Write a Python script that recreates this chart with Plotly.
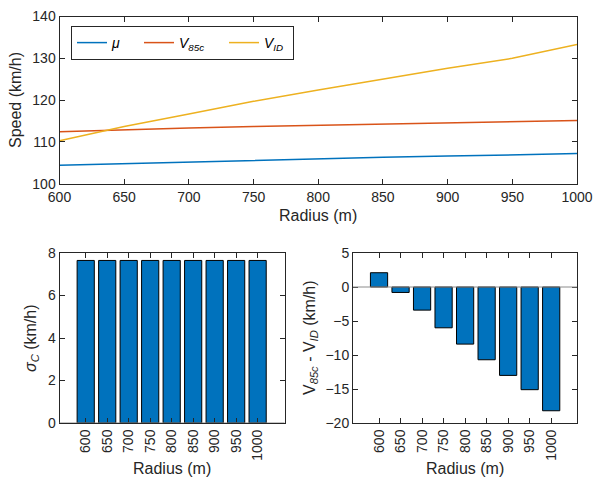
import plotly.graph_objects as go

radius = [600, 650, 700, 750, 800, 850, 900, 950, 1000]
mu = [104.4, 104.8, 105.2, 105.6, 105.9, 106.3, 106.6, 106.9, 107.2]
v85c = [112.4, 112.9, 113.3, 113.7, 114.0, 114.3, 114.6, 114.9, 115.1]
vid = [110.3, 113.7, 116.7, 119.7, 122.4, 125.0, 127.6, 130.0, 133.3]
sigma_c = [7.65, 7.65, 7.65, 7.65, 7.65, 7.65, 7.65, 7.65, 7.65]
diff = [2.1, -0.8, -3.4, -6.0, -8.4, -10.7, -13.0, -15.1, -18.2]
cat_labels = [str(r) for r in radius]

W, H = 593, 481
def fx(px): return px / W
def fy(py): return 1 - py / H

BLUE = "#0072BD"
ORANGE = "#D95319"
YELLOW = "#EDB120"
AX = "#262626"
FONT = "Liberation Sans, Arial, sans-serif"

fig = go.Figure()
fig.add_trace(go.Scatter(x=radius, y=mu, mode="lines", line=dict(color=BLUE, width=1.5),
                         name="<i>μ</i>", legendwidth=22, xaxis="x", yaxis="y"))
fig.add_trace(go.Scatter(x=radius, y=v85c, mode="lines", line=dict(color=ORANGE, width=1.5),
                         name="<i>V</i><sub><i>85c</i></sub>", legendwidth=40, xaxis="x", yaxis="y"))
fig.add_trace(go.Scatter(x=radius, y=vid, mode="lines", line=dict(color=YELLOW, width=1.5),
                         name="<i>V</i><sub><i>ID</i></sub>", legendwidth=24, xaxis="x", yaxis="y"))

idx = list(range(len(radius)))
fig.add_trace(go.Bar(x=idx, y=sigma_c, width=0.8, marker=dict(color=BLUE, line=dict(color="black", width=1)),
                     showlegend=False, xaxis="x2", yaxis="y2"))
fig.add_trace(go.Bar(x=idx, y=diff, width=0.8, marker=dict(color=BLUE, line=dict(color="black", width=1)),
                     showlegend=False, xaxis="x3", yaxis="y3"))

common = dict(showline=True, linecolor=AX, linewidth=1, mirror="ticks", ticks="inside",
              ticklen=5, tickcolor=AX, showgrid=False, zeroline=False, automargin=False,
              tickfont=dict(family=FONT, size=14, color=AX))

def ann(text, x, y, angle=0):
    return dict(text=text, xref="paper", yref="paper", x=fx(x), y=fy(y),
                xanchor="center", yanchor="middle", showarrow=False, textangle=angle,
                font=dict(size=16, family=FONT, color=AX))

fig.update_layout(
    width=W, height=H, margin=dict(l=0, r=0, t=0, b=0, autoexpand=False),
    plot_bgcolor="white", paper_bgcolor="white",
    font=dict(family=FONT, color=AX),
    xaxis=dict(domain=[fx(59.5), fx(577)], anchor="y", range=[600, 1000],
               tickvals=[600, 650, 700, 750, 800, 850, 900, 950, 1000], **common),
    yaxis=dict(domain=[fy(183.7), fy(16.5)], anchor="x", range=[100, 140],
               tickvals=[100, 110, 120, 130, 140], **common),
    xaxis2=dict(domain=[fx(59.5), fx(284.5)], anchor="y2", range=[-1.22, 9.25],
                tickvals=idx, ticktext=cat_labels, tickangle=-90, **common),
    yaxis2=dict(domain=[fy(423), fy(253)], anchor="x2", range=[0, 8],
                tickvals=[0, 2, 4, 6, 8], **common),
    xaxis3=dict(domain=[fx(353), fx(577)], anchor="y3", range=[-1.21, 9.2],
                tickvals=idx, ticktext=cat_labels, tickangle=-90, **common),
    yaxis3=dict(domain=[fy(423), fy(253)], anchor="x3", range=[-20, 5],
                tickvals=[-20, -15, -10, -5, 0, 5], **common),
    legend=dict(orientation="h", x=fx(71), y=fy(26), xanchor="left", yanchor="top",
                bordercolor=AX, borderwidth=1, bgcolor="white",
                font=dict(family=FONT, size=14, color="black"), itemwidth=30,
                tracegroupgap=0),
    bargap=0.2,
    shapes=[
        dict(type="line", xref="x3 domain", yref="y3", x0=0, x1=1, y0=0, y1=0,
             line=dict(color="#8c8c8c", width=1), layer="above"),
        dict(type="line", xref="x2 domain", yref="y2", x0=0, x1=1, y0=0, y1=0,
             line=dict(color="#8c8c8c", width=1), layer="above"),
    ],
    annotations=[
        ann("Radius (m)", 318, 215),
        ann("Speed (km/h)", 15, 100, -90),
        ann("Radius (m)", 172, 468),
        ann("Radius (m)", 465, 468),
        ann("<i>σ</i><sub><i>C</i></sub> (km/h)", 31, 338, -90),
        ann("V<sub><i>85c</i></sub> - V<sub><i>ID</i></sub> (km/h)", 310, 338, -90),
    ],
)

fig.write_html("out.html", config={"displayModeBar": False},
               post_script="document.body.style.margin='0';document.body.style.overflow='hidden';")
